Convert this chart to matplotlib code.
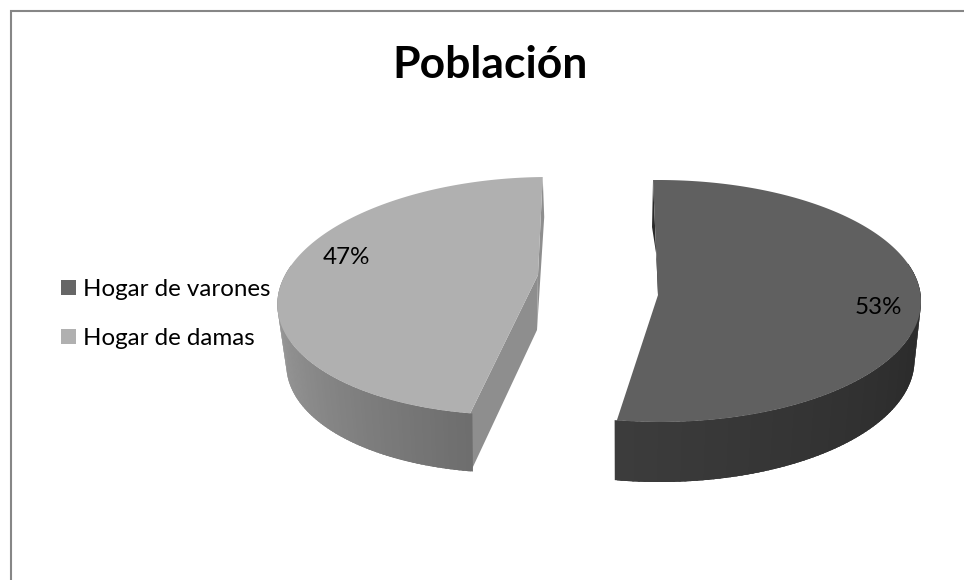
import numpy as np
import matplotlib
matplotlib.use("Agg")
import matplotlib.pyplot as plt
from matplotlib.patches import Patch

# Datos
categorias = ["Hogar de varones", "Hogar de damas"]
valores = [53, 47]
etiquetas = ["53%", "47%"]
titulo = "Población"

# Colores
COLOR_TOPE = ["#606060", "#b0b0b0"]
COLOR_CARA = ["#2a2a2a", "#8e8e8e"]
COLOR_LEYENDA = ["#666666", "#b0b0b0"]
BORDE = "#868686"

INICIO = -1.2  # angulo inicial, desde arriba en sentido horario

# elipses en pixeles: cx, cy, a, b, inclinacion
TOPE_DER = (659.5, 301, 261.5, 121, -1)
BASE_DER = (659.5, 360, 255, 122, 0)
TOPE_IZQ = (530, 296, 252, 119, 18)
BASE_IZQ = (529, 356, 242, 117, 18)

plt.rcParams['font.family'] = ['Lato', 'DejaVu Sans']

fig = plt.figure(figsize=(9.64, 5.8), dpi=100)
ax = fig.add_axes([0, 0, 1, 1])
ax.set_xlim(0, 964)
ax.set_ylim(580, 0)
ax.axis("off")


def punto(elipse, t):
    cx, cy, a, b, k = elipse
    t = np.radians(t)
    return cx + a * np.sin(t) + k * np.cos(t), cy - b * np.cos(t)


def pared(tope, base, t0, t1, c0, c1, n=90):
    # pared exterior con degradado, hecha de tiras finas
    tt = np.linspace(t0, t1, 200)
    xa, ya = punto(tope, tt)
    xb, yb = punto(base, tt)
    ax.fill(np.r_[xa, xb[::-1]], np.r_[ya, yb[::-1]],
            color=str((c0 + c1) / 510), lw=0)
    ts = np.linspace(t0, t1, n + 1)
    paso = np.sign(t1 - t0) * 0.5
    for i in range(n):
        f = i / (n - 1)
        gris = c0 + (c1 - c0) * f
        tt = np.linspace(ts[i], ts[i + 1] + paso, 4)
        xa, ya = punto(tope, tt)
        xb, yb = punto(base, tt)
        ax.fill(np.r_[xa, xb[::-1]], np.r_[ya, yb[::-1]],
                color=str(gris / 255), lw=0)


angulos = INICIO + np.cumsum([0] + valores) * 3.6
t_ini, t_med, t_fin = angulos

# porcion derecha
ax_x, ax_y = punto(TOPE_DER, t_ini)
ax.fill([ax_x, ax_x - 1, 661, 658], [ax_y, ax_y + 47, 285, 295],
        color=COLOR_CARA[0], lw=0)
pared(TOPE_DER, BASE_DER, 72, t_med, 38, 60)
t = np.linspace(t_ini, t_med, 200)
x, y = punto(TOPE_DER, t)
ax.fill(np.r_[658, x], np.r_[295, y], color=COLOR_TOPE[0], lw=0)

# porcion izquierda
esq_x, esq_y = punto(TOPE_IZQ, t_med)
esq2_x, esq2_y = punto(BASE_IZQ, t_med)
ax.fill([esq_x, 538, 537, esq2_x], [esq_y, 275, 330, esq2_y],
        color=COLOR_CARA[1], lw=0)
fin_x, fin_y = punto(TOPE_IZQ, t_fin)
ax.fill([fin_x, fin_x + 1.5, 537, 538], [fin_y, fin_y + 40, 330, 275],
        color=COLOR_CARA[1], lw=0)
pared(TOPE_IZQ, BASE_IZQ, 285, t_med, 165, 110)
t = np.linspace(t_med, t_fin, 200)
x, y = punto(TOPE_IZQ, t)
ax.fill(np.r_[538, x], np.r_[275, y], color=COLOR_TOPE[1], lw=0)

# etiquetas
ax.text(878.5, 307, etiquetas[0], fontsize=17.4, ha="center", va="center", color="black")
ax.text(346, 258, etiquetas[1], fontsize=17.4, ha="center", va="center", color="black")

ax.text(490, 65, titulo, fontsize=32, fontweight="bold", ha="center", va="center", color="black")

# leyenda
handles = [Patch(color=c, lw=0) for c in COLOR_LEYENDA]
ax.legend(handles, categorias, loc="center left", bbox_to_anchor=(61 / 964, 1 - 314 / 580),
          frameon=False, fontsize=17.4, borderpad=0, borderaxespad=0,
          handlelength=0.62, handleheight=0.58, handletextpad=0.29, labelspacing=1.14)

# borde del grafico
ax.plot([11, 11, 964], [580, 11, 11], color=BORDE, lw=1.5, solid_joinstyle="miter")

fig.savefig("out.png", dpi=100)
